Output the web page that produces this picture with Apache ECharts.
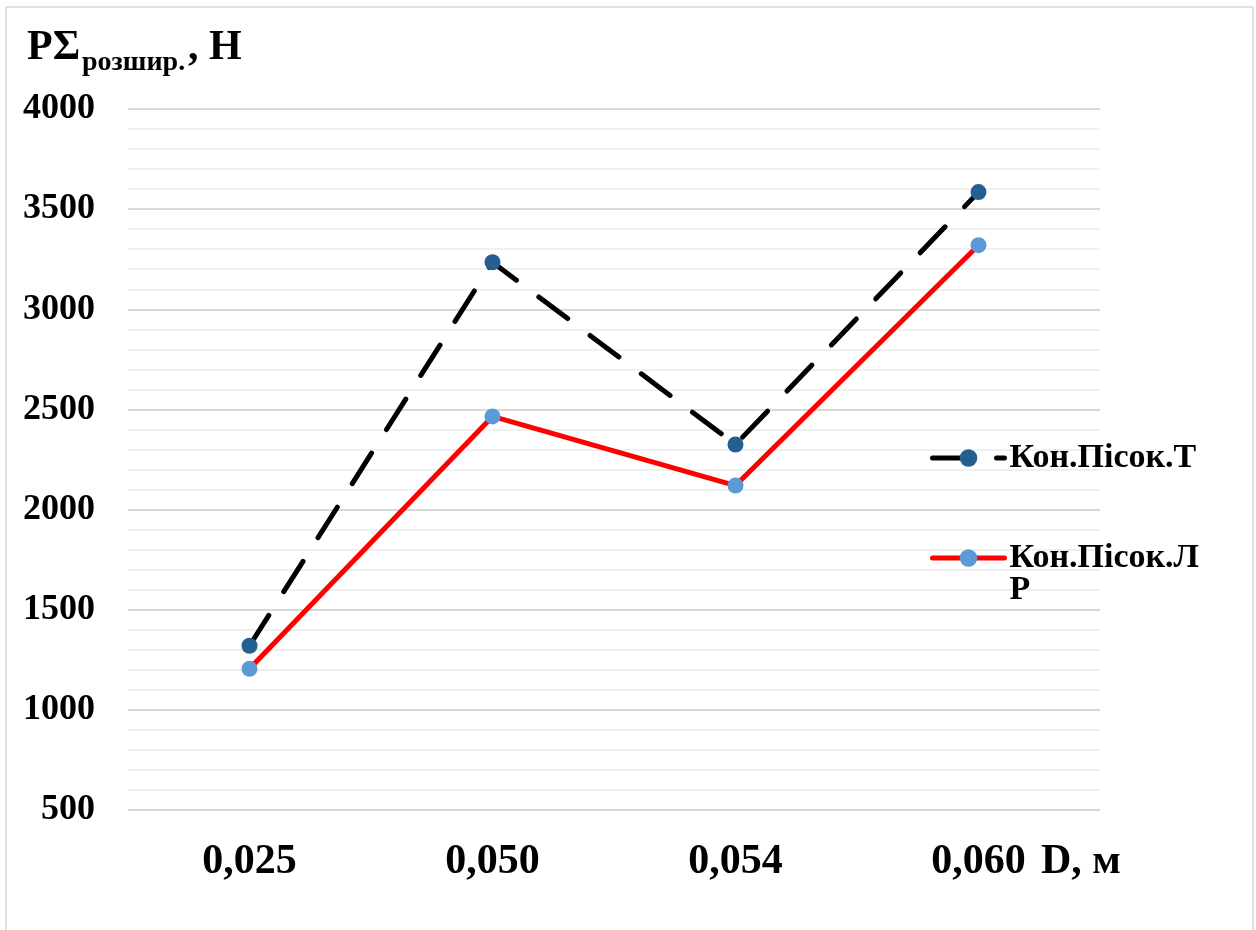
<!DOCTYPE html>
<html>
<head>
<meta charset="utf-8">
<script src="https://cdn.jsdelivr.net/npm/echarts@6/dist/echarts.min.js"></script>
<style>
html,body{margin:0;padding:0;background:#fff;}
#chart{width:1256px;height:930px;}
</style>
</head>
<body>
<div id="chart"></div>
<script>
const categories = ['0,025', '0,050', '0,054', '0,060'];
const seriesT = [1320, 3235, 2325, 3585];
const seriesLR = [1205, 2465, 2120, 3320];
const seriesNames = ['Кон.Пісок.Т', 'Кон.Пісок.ЛР'];
const yTicks = { min: 500, max: 4000, interval: 500 };

const FONT = '"Liberation Serif", "Times New Roman", serif';
const chart = echarts.init(document.getElementById('chart'));

const titleStyle = function (size) {
  return { fontFamily: FONT, fontWeight: 'bold', fontSize: size, lineHeight: size, color: '#000' };
};

chart.setOption({
  backgroundColor: '#fff',
  animation: false,
  graphic: [{
    type: 'rect',
    shape: { x: 6, y: 7, width: 1247, height: 940 },
    style: { fill: 'none', stroke: '#d9d9d9', lineWidth: 1.5 },
    silent: true
  }],
  title: [
    { left: 27, top: 27, padding: 0, text: 'РΣ', textStyle: titleStyle(42) },
    { left: 82, top: 49, padding: 0, text: 'розшир.', textStyle: titleStyle(28) },
    { left: 188, top: 27, padding: 0, text: ', Н', textStyle: titleStyle(42) }
  ],
  legend: {
    orient: 'vertical',
    left: 930, top: 441,
    itemWidth: 72, itemHeight: 22,
    itemGap: 34,
    padding: 0,
    lineStyle: { width: 5, cap: 'round' },
    data: [
      { name: seriesNames[0] },
      { name: seriesNames[1] }
    ],
    formatter: function (name) {
      return name === 'Кон.Пісок.ЛР' ? '\nКон.Пісок.Л\nР' : name;
    },
    textStyle: { fontFamily: FONT, fontWeight: 'bold', fontSize: 34, lineHeight: 32, color: '#000' }
  },
  grid: { left: 128, right: 156, top: 109, bottom: 120, containLabel: false },
  xAxis: {
    type: 'category',
    data: categories,
    boundaryGap: true,
    axisLine: { show: false },
    axisTick: { show: false },
    axisLabel: { fontFamily: FONT, fontWeight: 'bold', fontSize: 42, color: '#000', margin: 31 },
    name: 'D, м',
    nameLocation: 'end',
    nameGap: -59,
    nameMoveOverlap: false,
    nameTextStyle: { fontFamily: FONT, fontWeight: 'bold', fontSize: 42, color: '#000', align: 'left', verticalAlign: 'top', padding: [31, 0, 0, 0] }
  },
  yAxis: {
    type: 'value',
    min: yTicks.min, max: yTicks.max, interval: yTicks.interval,
    axisLine: { show: false },
    axisTick: { show: false },
    axisLabel: {
      fontFamily: FONT, fontWeight: 'bold', fontSize: 36, color: '#000', margin: 33,
      formatter: function (v) { return String(v); }
    },
    splitLine: { show: true, lineStyle: { color: '#d9d9d9', width: 2 } },
    minorTick: { show: false, splitNumber: 5 },
    minorSplitLine: { show: true, lineStyle: { color: '#f0f0f0', width: 2 } }
  },
  series: [
    {
      name: seriesNames[0],
      type: 'line',
      data: seriesT,
      symbol: 'circle',
      symbolSize: 16,
      lineStyle: { color: '#000', width: 5, type: [36, 28], cap: 'round' },
      itemStyle: { color: '#255e91' },
      z: 3
    },
    {
      name: seriesNames[1],
      type: 'line',
      data: seriesLR,
      symbol: 'circle',
      symbolSize: 16,
      lineStyle: { color: '#ff0000', width: 5, cap: 'round' },
      itemStyle: { color: '#5b9bd5' },
      z: 2
    }
  ]
});
</script>
</body>
</html>
